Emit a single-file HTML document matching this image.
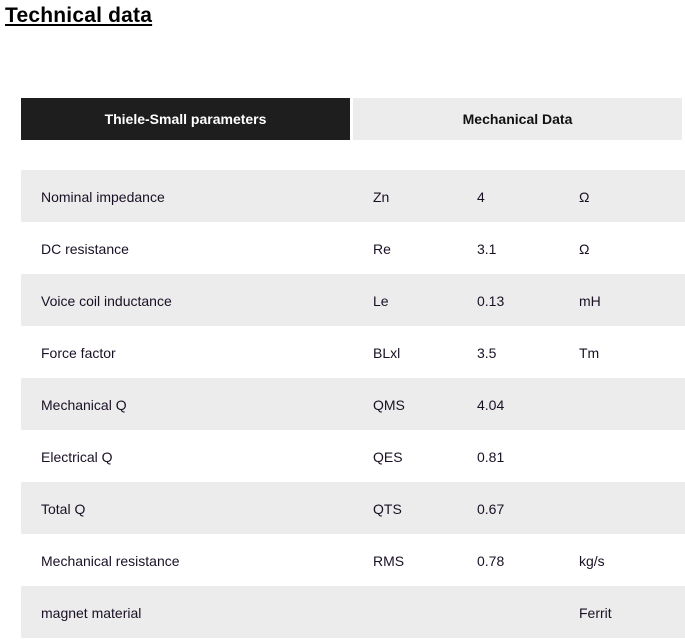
<!DOCTYPE html>
<html><head><style>
body{margin:0;background:#fff;width:685px;height:643px;overflow:hidden;font-family:"Liberation Sans",sans-serif;color:#1a1024}
h2{position:absolute;left:5px;top:4px;margin:0;font-size:21px;font-weight:bold;text-decoration:underline;text-decoration-thickness:2px;text-underline-offset:2px;letter-spacing:0.2px;color:#000}
.tab{position:absolute;top:98px;height:42px;width:329px;line-height:43px;text-align:center;font-weight:bold;font-size:14px}
.t1{left:21px;background:#1e1e1e;color:#fff}
.t2{left:353px;background:#ececec;color:#111}
.row{position:absolute;left:21px;width:664px;height:52px;line-height:54px;font-size:14px}
.g{background:#ececec}
.row span{position:absolute;top:0}
.a{left:20px}.b{left:352px}.c{left:456px}.d{left:558px}
</style></head><body>
<h2>Technical data</h2>
<div class="tab t1">Thiele-Small parameters</div>
<div class="tab t2">Mechanical Data</div>
<div class="row g" style="top:170px"><span class="a">Nominal impedance</span><span class="b">Zn</span><span class="c">4</span><span class="d">Ω</span></div>
<div class="row" style="top:222px"><span class="a">DC resistance</span><span class="b">Re</span><span class="c">3.1</span><span class="d">Ω</span></div>
<div class="row g" style="top:274px"><span class="a">Voice coil inductance</span><span class="b">Le</span><span class="c">0.13</span><span class="d">mH</span></div>
<div class="row" style="top:326px"><span class="a">Force factor</span><span class="b">BLxl</span><span class="c">3.5</span><span class="d">Tm</span></div>
<div class="row g" style="top:378px"><span class="a">Mechanical Q</span><span class="b">QMS</span><span class="c">4.04</span></div>
<div class="row" style="top:430px"><span class="a">Electrical Q</span><span class="b">QES</span><span class="c">0.81</span></div>
<div class="row g" style="top:482px"><span class="a">Total Q</span><span class="b">QTS</span><span class="c">0.67</span></div>
<div class="row" style="top:534px"><span class="a">Mechanical resistance</span><span class="b">RMS</span><span class="c">0.78</span><span class="d">kg/s</span></div>
<div class="row g" style="top:586px"><span class="a">magnet material</span><span class="d">Ferrit</span></div>
</body></html>
